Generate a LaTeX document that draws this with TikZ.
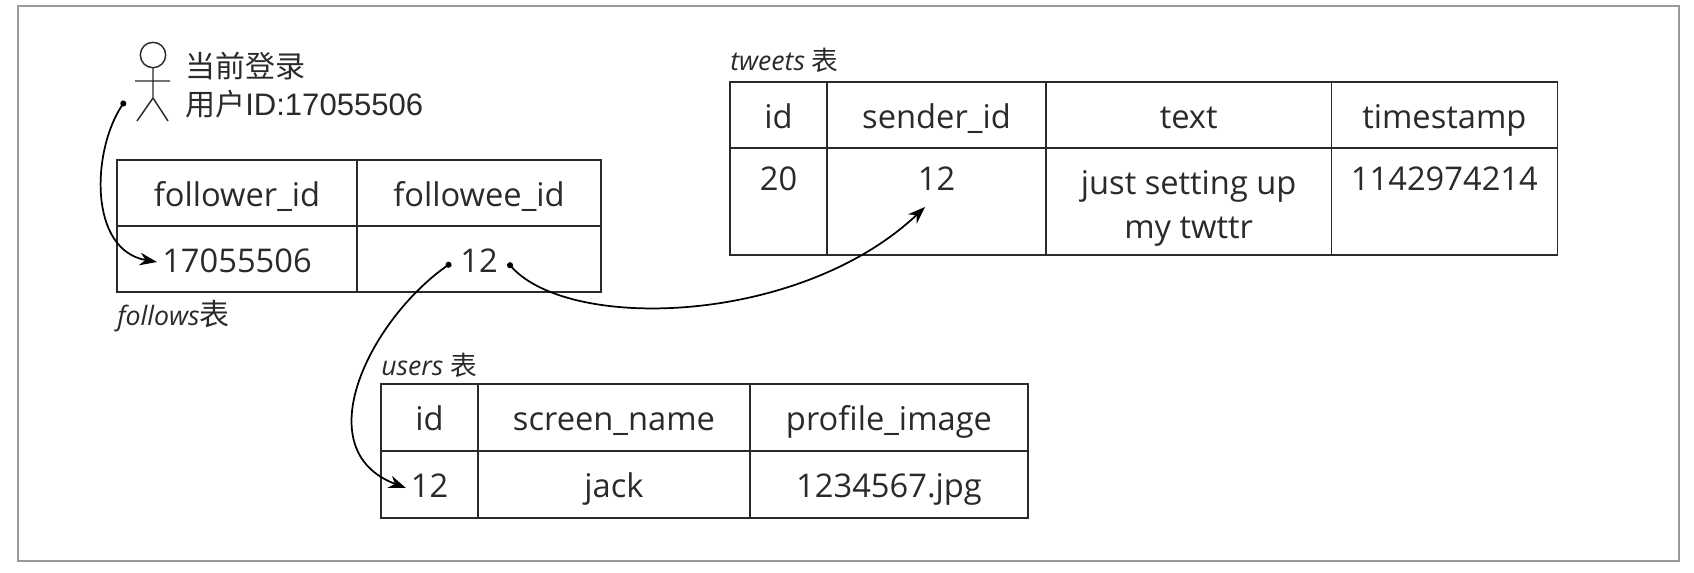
\documentclass[tikz,border=0pt]{standalone}
\usepackage{fontspec}
\usepackage{xcolor}
\usepackage{tikz}
\usetikzlibrary{arrows.meta, positioning}
\setmainfont{Open Sans}
\newfontfamily\cjkfont{Noto Sans CJK SC}
\newfontfamily\actorfont{Liberation Sans}
\definecolor{frameGray}{HTML}{9A9A9A}
\definecolor{inkGray}{HTML}{2A2A2A}

\begin{document}
\begin{tikzpicture}[
    x=0.75pt, y=-0.75pt,
    cell/.style={rectangle, draw=inkGray, line width=1pt, inner sep=0pt, outer sep=0pt, align=center, text=inkGray, text height=25pt, text depth=5pt, font=\fontsize{24.5}{32.5}\selectfont},
    topcell/.style={cell, text depth=41pt},
    caption/.style={anchor=base west, inner sep=0pt, text=inkGray, font=\fontsize{20}{24}\selectfont\itshape},
    actorlabel/.style={anchor=west, inner sep=0pt, text=inkGray},
    arrow/.style={{Circle[length=4.5pt]}-{Stealth[length=13pt,width=9.5pt]}, line width=1.3pt, draw=black},
]
    \useasboundingbox (0,0) rectangle (1694,572);
    \node[rectangle, draw=frameGray, line width=1.2pt, minimum width=1245.75pt, minimum height=416.25pt, anchor=north west] (frame) at (17,5) {};

    % follows table
    \node[cell, minimum width=180pt, minimum height=49.5pt, anchor=north west] (followerHead) at (117,160) {follower\_id};
    \node[cell, minimum width=183pt, minimum height=49.5pt, right=0pt of followerHead] (followeeHead) {followee\_id};
    \node[cell, minimum width=180pt, minimum height=49.5pt, below=0pt of followerHead] (followerVal) {17055506};
    \node[cell, minimum width=183pt, minimum height=49.5pt, below=0pt of followeeHead] (followeeVal) {12};
    \node[caption, below=25pt of followerVal.south west, anchor=base west] (followsCap) {follows{\cjkfont\upshape\fontsize{22.5}{24}\selectfont 表}};

    % tweets table
    \node[cell, minimum width=72.75pt, minimum height=49.5pt, anchor=north west] (tweetId) at (730,82) {id};
    \node[cell, minimum width=164.25pt, minimum height=49.5pt, right=0pt of tweetId] (tweetSender) {sender\_id};
    \node[cell, minimum width=214pt, minimum height=49.5pt, right=0pt of tweetSender] (tweetText) {text};
    \node[cell, minimum width=169.5pt, minimum height=49.5pt, right=0pt of tweetText] (tweetTime) {timestamp};
    \node[topcell, minimum width=72.75pt, minimum height=80.25pt, below=0pt of tweetId] (tweetIdVal) {20};
    \node[topcell, minimum width=164.25pt, minimum height=80.25pt, below=0pt of tweetSender] (tweetSenderVal) {12};
    \node[cell, minimum width=214pt, minimum height=80.25pt, below=0pt of tweetText, text height=60pt] (tweetTextVal) {just setting up\\my twttr};
    \node[topcell, minimum width=169.5pt, minimum height=80.25pt, below=0pt of tweetTime] (tweetTimeVal) {1142974214};
    \node[caption, above=9pt of tweetId.north west, anchor=base west] (tweetsCap) {tweets {\cjkfont\upshape 表}};

    % users table
    \node[cell, minimum width=72.75pt, minimum height=50.25pt, anchor=north west] (userId) at (381,384) {id};
    \node[cell, minimum width=204pt, minimum height=50.25pt, right=0pt of userId] (userName) {screen\_name};
    \node[cell, minimum width=208.5pt, minimum height=50.25pt, right=0pt of userName] (userImage) {profile\_image};
    \node[cell, minimum width=72.75pt, minimum height=50.25pt, below=0pt of userId] (userIdVal) {12};
    \node[cell, minimum width=204pt, minimum height=50.25pt, below=0pt of userName] (userNameVal) {jack};
    \node[cell, minimum width=208.5pt, minimum height=50.25pt, below=0pt of userImage] (userImageVal) {1234567.jpg};
    \node[caption, above=6.75pt of userId.north west, anchor=base west] (usersCap) {users {\cjkfont\upshape 表}};

    % logged in user
    \draw[inkGray, line width=1.1pt] (153,55) circle (12.7);
    \draw[inkGray, line width=1.1pt] (153,68) -- (153,98) (135,81) -- (170,81) (137,121) -- (153,98) -- (168,121);
    \node[actorlabel, font=\fontsize{22.5}{26}\selectfont\cjkfont] (loginLabel) at (185,66) {当前登录};
    \node[actorlabel, font=\fontsize{23.3}{26}\selectfont\actorfont, below=0pt of loginLabel.west, anchor=west, yshift=-28.5pt] (idLabel) {{\cjkfont\fontsize{22.5}{26}\selectfont 用户}ID:17055506};

    % connectors
    \coordinate (actorDot) at (125,101);
    \coordinate (followerTip) at (157,262);
    \coordinate (leftDot) at (451,263);
    \coordinate (userTip) at (406,488);
    \coordinate (rightDot) at (508,263);
    \coordinate (senderTip) at (925,207);

    \draw[arrow] (actorDot) .. controls (92,150) and (88,250) .. (followerTip);
    \draw[arrow] (leftDot) .. controls (370,320) and (305,450) .. (userTip);
    \draw[arrow] (rightDot) .. controls (570,332) and (800,325) .. (senderTip);
\end{tikzpicture}
\end{document}
